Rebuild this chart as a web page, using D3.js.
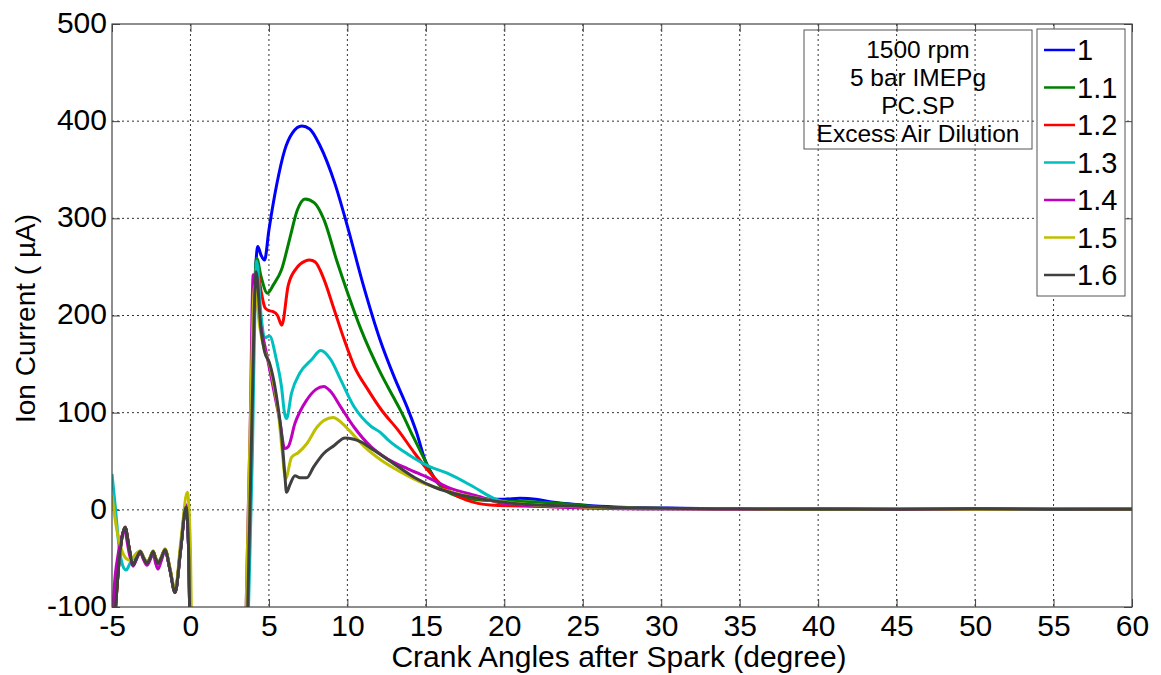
<!DOCTYPE html>
<html>
<head>
<meta charset="utf-8">
<script src="https://cdn.jsdelivr.net/npm/d3@7"></script>
<style>
  body { margin: 0; background: #fff; }
  svg { display: block; font-family: "Liberation Sans", Arial, sans-serif; }
</style>
</head>
<body>
<svg id="chart" width="1161" height="675"></svg>
<script>
// Axis ticks
const xTicks = [-5, 0, 5, 10, 15, 20, 25, 30, 35, 40, 45, 50, 55, 60];
const yTicks = [-100, 0, 100, 200, 300, 400, 500];

// Excess air ratio of each run and its line colour
const lambdaLabels = ["1", "1.1", "1.2", "1.3", "1.4", "1.5", "1.6"];
const lambdaColors = ["#0000ff", "#008000", "#ff0000", "#00bfbf", "#bf00bf", "#bfbf00", "#404040"];

const conditions = ["1500 rpm", "5 bar IMEPg", "PC.SP", "Excess Air Dilution"];

// Spark-noise part shared by most runs, before the flame kernel signal
const sparkNoise = [[-5,-160],[-4.75,-95],[-4.5,-45],[-4.17,-18],[-3.9,-40],[-3.66,-57],[-3.42,-49],[-3.2,-43],[-2.97,-50],[-2.77,-55],[-2.58,-50],[-2.38,-43],[-2.22,-50],[-2.07,-55],[-1.85,-49],[-1.62,-41],[-1.3,-62],[-0.98,-85],[-0.62,-40],[-0.28,3],[-0.1,-50],[0.05,-220],[0.4,-400],[3.3,-400]];
const sparkNoiseMagenta = [[-5,-125],[-4.9,-90],[-4.6,-45],[-4.2,-22],[-3.9,-45],[-3.66,-58],[-3.42,-50],[-3.2,-44],[-2.97,-52],[-2.77,-57],[-2.58,-52],[-2.38,-45],[-2.22,-55],[-2.07,-61],[-1.85,-52],[-1.62,-42],[-1.3,-62],[-0.98,-84],[-0.62,-38],[-0.28,5],[-0.1,-50],[0.05,-220],[0.4,-400],[3.3,-400]];
const sparkNoiseCyan = [[-5,37],[-4.8,5],[-4.55,-38],[-4.3,-58],[-4.1,-62],[-3.85,-55],[-3.55,-47],[-3.2,-43],[-2.97,-50],[-2.77,-55],[-2.58,-50],[-2.38,-43],[-2.22,-50],[-2.07,-55],[-1.85,-49],[-1.62,-41],[-1.3,-62],[-0.98,-84],[-0.62,-38],[-0.28,5],[-0.1,-50],[0.05,-220],[0.4,-400],[3.3,-400]];
const sparkNoiseYellow = [[-5,15],[-4.75,-15],[-4.45,-38],[-4.1,-50],[-3.85,-52],[-3.55,-47],[-3.2,-42],[-2.97,-49],[-2.77,-54],[-2.58,-49],[-2.38,-42],[-2.22,-49],[-2.07,-54],[-1.85,-48],[-1.62,-40],[-1.3,-60],[-0.98,-82],[-0.6,-30],[-0.2,18],[0.0,-40],[0.15,-220],[0.5,-400],[3.2,-400]];

// Ion current (uA) against crank angle after spark (deg), one list per run
const lambda10 = sparkNoise.concat([[3.6,-100],[3.85,40],[4.05,200],[4.29,271],[4.5,262],[4.72,257],[5.0,288],[5.5,335],[6.0,370],[6.5,388],[7.1,395],[7.6,392],[8.25,375],[9.2,336],[10,292],[11,232],[12.08,175],[13,136],[13.8,106],[14.4,80],[14.95,51],[15.5,34],[16,24],[17,15],[18,12],[19,11],[20,11],[21,12],[22,11],[23,8],[25,5],[27,3],[30,2],[35,1],[40,1],[45,0.5],[50,1],[55,0.5],[60,0.5]]);
const lambda11 = sparkNoise.concat([[3.6,-100],[3.85,40],[4.02,190],[4.22,259],[4.5,240],[4.9,223],[5.3,232],[5.8,247],[6.34,280],[6.8,308],[7.3,320],[7.9,316],[8.5,299],[9.35,255],[10,224],[10.86,186],[12.08,142],[13,114],[13.46,100],[14.2,75],[15.06,47],[15.5,33],[16,23],[17,14],[18,11],[20,9],[22,8],[24,6],[26,3],[30,1.5],[35,1],[40,0.5],[45,1],[50,0.5],[55,1],[60,0.5]]);
const lambda12 = sparkNoise.concat([[3.6,-100],[3.85,40],[4.02,180],[4.22,250],[4.5,225],[4.75,208],[5.0,205],[5.27,204],[5.55,200],[5.82,190],[6.23,231],[6.77,249],[7.3,256],[7.6,257],[7.95,255],[8.49,238],[9.14,207],[9.78,176],[10.43,148],[11.3,124],[12.16,103],[13.23,82],[14.3,58],[15.17,40],[15.9,27],[16.8,16],[17.6,10],[19.1,5],[21,4],[24,3],[30,1],[35,1],[40,0.5],[45,0.5],[50,1],[55,0.5],[60,0.5]]);
const lambda13 = sparkNoiseCyan.concat([[3.7,-100],[3.95,60],[4.1,200],[4.22,256],[4.5,200],[4.72,177],[5.04,179],[5.47,155],[5.8,127],[6.0,99],[6.12,94],[6.44,120],[6.98,141],[7.74,155],[8.3,164],[8.92,155],[9.57,134],[10.43,106],[11.5,86],[12.08,80],[12.59,72],[13.88,57],[15.17,45],[16.33,38],[18,24],[19.3,12],[20,8],[22,5],[25,3],[30,1],[35,1],[40,0.5],[45,1],[50,0.5],[55,0.5],[60,1]]);
const lambda14 = sparkNoiseMagenta.concat([[3.55,-100],[3.8,80],[4.0,242],[4.4,196],[4.83,162],[5.26,127],[5.69,92],[6.01,63],[6.23,65],[6.66,89],[7.41,113],[8.0,124],[8.5,127],[8.92,122],[9.57,106],[10.43,85],[11.5,65],[12.59,52],[13.88,42],[15.17,33],[16.3,24],[18.45,13.5],[19.8,7],[22,4],[25,2],[30,1],[35,0.5],[40,1],[45,0.5],[50,0.5],[55,1],[60,0.5]]);
const lambda15 = sparkNoiseYellow.concat([[3.55,-100],[3.8,80],[4.1,232],[4.4,190],[4.7,165],[5.04,150],[5.3,130],[5.6,100],[5.85,60],[6.06,32],[6.44,54],[6.88,59],[7.41,68],[8.06,85],[8.5,92],[9.1,95],[9.46,92],[10.1,82],[11.08,65],[12.16,51],[13.45,38.5],[14.74,28],[16.03,21],[18,13],[20,8],[22,5],[25,3],[30,1.5],[35,1],[40,0.5],[45,1],[50,0.5],[55,1],[60,0.5]]);
const lambda16 = sparkNoise.concat([[3.65,-100],[3.9,80],[4.18,245],[4.5,185],[4.72,163],[5.04,151],[5.26,137],[5.58,106],[5.8,78],[6.01,37],[6.12,18],[6.34,26],[6.66,35],[6.98,33],[7.41,33],[7.84,44],[8.49,58],[9.14,66],[9.85,74],[10.86,70],[11.72,61],[13,47],[14.3,33],[15.6,23],[17,16],[19,10],[21,6],[24,4],[28,2],[35,1],[40,0.5],[45,0.5],[50,1],[55,0.5],[60,0.5]]);

const runs = [lambda10, lambda11, lambda12, lambda13, lambda14, lambda15, lambda16];

// Layout
const margin = { left: 112, top: 24, right: 29, bottom: 68 };
const W = 1161, H = 675;
const pw = W - margin.left - margin.right;
const ph = H - margin.top - margin.bottom;

const svg = d3.select("#chart");
const g = svg.append("g").attr("transform", `translate(${margin.left},${margin.top})`);

const x = d3.scaleLinear().domain([-5, 60]).range([0, pw]);
const y = d3.scaleLinear().domain([-100, 500]).range([ph, 0]);

svg.append("defs").append("clipPath").attr("id", "plotClip")
  .append("rect").attr("width", pw).attr("height", ph);

// Dotted grid
g.append("g").selectAll("line").data(xTicks.slice(1, -1)).join("line")
  .attr("x1", d => x(d)).attr("x2", d => x(d)).attr("y1", 0).attr("y2", ph)
  .attr("stroke", "#333").attr("stroke-width", 1).attr("stroke-dasharray", "2,3");
g.append("g").selectAll("line").data(yTicks.slice(1, -1)).join("line")
  .attr("y1", d => y(d)).attr("y2", d => y(d)).attr("x1", 0).attr("x2", pw)
  .attr("stroke", "#333").attr("stroke-width", 1).attr("stroke-dasharray", "2,3");

// Axes with inward ticks; plain hyphen for negative labels
const tickFont = 30;
const plain = d => String(d);
const xAxis = g.append("g").attr("transform", `translate(0,${ph})`)
  .call(d3.axisBottom(x).tickValues(xTicks).tickFormat(plain).tickSizeInner(-8).tickSizeOuter(0).tickPadding(8));
const yAxis = g.append("g")
  .call(d3.axisLeft(y).tickValues(yTicks).tickFormat(plain).tickSizeInner(-8).tickSizeOuter(0).tickPadding(5));
g.append("g")
  .call(d3.axisTop(x).tickValues(xTicks).tickSizeInner(-8).tickSizeOuter(0).tickFormat(""));
g.append("g").attr("transform", `translate(${pw},0)`)
  .call(d3.axisRight(y).tickValues(yTicks).tickSizeInner(-8).tickSizeOuter(0).tickFormat(""));
g.selectAll(".domain").remove();
g.selectAll(".tick line").attr("stroke", "#444");
[xAxis, yAxis].forEach(a => a.selectAll("text")
  .attr("font-size", tickFont).attr("fill", "#000")
  .attr("font-family", "'Liberation Sans', Arial, sans-serif"));
yAxis.selectAll("text").attr("dy", "0.28em");

// Current traces
const line = d3.line().x(d => x(d[0])).y(d => y(d[1])).curve(d3.curveMonotoneX);
g.append("g").attr("clip-path", "url(#plotClip)")
  .selectAll("path").data(runs).join("path")
  .attr("d", line)
  .attr("fill", "none")
  .attr("stroke", (d, i) => lambdaColors[i])
  .attr("stroke-width", 3)
  .attr("stroke-linejoin", "round");

// Axes frame
g.append("rect").attr("width", pw).attr("height", ph)
  .attr("fill", "none").attr("stroke", "#444").attr("stroke-width", 1.2);

// Axis titles
svg.append("text").attr("x", margin.left + pw / 2 - 3).attr("y", 659)
  .attr("text-anchor", "middle").attr("dominant-baseline", "middle")
  .attr("font-size", 30).text("Crank Angles after Spark (degree)");
svg.append("text")
  .attr("transform", `translate(28,${margin.top + ph / 2 + 3}) rotate(-90)`)
  .attr("text-anchor", "middle").attr("dominant-baseline", "middle")
  .attr("font-size", 28).text("Ion Current ( \u00b5A)");

// Operating conditions box
const note = svg.append("g");
note.append("rect").attr("x", 804).attr("y", 30).attr("width", 228).attr("height", 119)
  .attr("fill", "none").attr("stroke", "#555").attr("stroke-width", 1);
note.selectAll("text").data(conditions).join("text")
  .attr("x", 918).attr("y", (d, i) => 49 + i * 28)
  .attr("text-anchor", "middle").attr("dominant-baseline", "central")
  .attr("font-size", 24.5).text(d => d);

// Legend
const legend = svg.append("g");
legend.append("rect").attr("x", 1037).attr("y", 29).attr("width", 88).attr("height", 267)
  .attr("fill", "#fff").attr("stroke", "#555").attr("stroke-width", 1);
const items = legend.selectAll("g.item").data(lambdaLabels).join("g").attr("class", "item")
  .attr("transform", (d, i) => `translate(0,${50 + i * 37.5})`);
items.append("line").attr("x1", 1044).attr("x2", 1075)
  .attr("stroke", (d, i) => lambdaColors[i]).attr("stroke-width", 2.5);
items.append("text").attr("x", 1077).attr("y", 0)
  .attr("dominant-baseline", "central").attr("font-size", 29).text(d => d);
</script>
</body>
</html>
